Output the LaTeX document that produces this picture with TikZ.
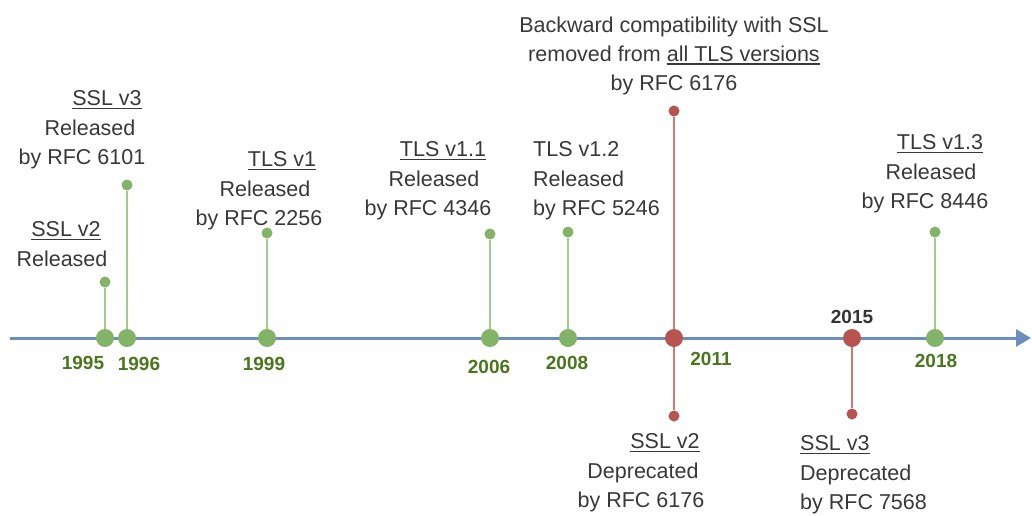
\documentclass[tikz,border=0pt]{standalone}
\usepackage{fontspec}
\setmainfont{Liberation Sans}
\usetikzlibrary{arrows.meta}

\definecolor{axisblue}{HTML}{6C8EBF}
\definecolor{relgreen}{HTML}{82B366}
\definecolor{stemgreen}{HTML}{A3CB8C}
\definecolor{depred}{HTML}{B85450}
\definecolor{stemred}{HTML}{CC7A76}
\definecolor{txtgray}{HTML}{383838}
\definecolor{yeargreen}{HTML}{4A761E}
\definecolor{yeargray}{HTML}{333333}

% underline with a thicker rule sitting a little below the baseline
\newcommand\uln[1]{\leavevmode\vtop{\hbox{#1}\kern1.6pt\hrule height 1.6pt}}
% shift a centred line sideways: positive moves right, negative moves left
\newcommand\shiftr[2]{\hspace*{#1}#2}
\newcommand\shiftl[2]{#2\hspace*{#1}}

\tikzset{
  note/.style={align=center, font=\fontsize{21.5}{29.3}\selectfont, text=txtgray, inner sep=0pt},
  year/.style={font=\fontsize{19}{21}\selectfont\bfseries, text=#1, inner sep=0pt},
  year/.default=yeargreen,
  bigdot/.style={circle, fill=#1, minimum size=18pt, inner sep=0pt},
  smalldot/.style={circle, fill=#1, minimum size=11pt, inner sep=0pt},
  axisline/.style={draw=axisblue, line width=3pt, -{Triangle[length=15pt,width=17pt]}},
  greenstem/.style={draw=stemgreen, line width=2.6pt},
  redstem/.style={draw=stemred, line width=2.6pt},
}

\begin{document}
\begin{tikzpicture}[x=1pt, y=-1pt]
\useasboundingbox (0,0) rectangle (1032,515);

% time axis
\coordinate (axstart) at (10,338);
\coordinate (axend) at (1031,338);
\draw[axisline] (axstart) -- (axend);

% release events (green)
\node[bigdot=relgreen] (d95) at (105,338) {};
\node[smalldot=relgreen] (t95) at (105,282) {};
\node[bigdot=relgreen] (d96) at (127,338) {};
\node[smalldot=relgreen] (t96) at (127,185) {};
\node[bigdot=relgreen] (d99) at (267,338) {};
\node[smalldot=relgreen] (t99) at (267,233) {};
\node[bigdot=relgreen] (d06) at (490,338) {};
\node[smalldot=relgreen] (t06) at (490,234) {};
\node[bigdot=relgreen] (d08) at (568,338) {};
\node[smalldot=relgreen] (t08) at (568,232) {};
\node[bigdot=relgreen] (d18) at (935,338) {};
\node[smalldot=relgreen] (t18) at (935,232) {};

% deprecation events (red)
\node[bigdot=depred] (d11) at (674,338) {};
\node[smalldot=depred] (t11) at (674,111) {};
\node[smalldot=depred] (b11) at (674,416) {};
\node[bigdot=depred] (d15) at (852,338) {};
\node[smalldot=depred] (b15) at (852,414) {};

% stems
\draw[greenstem] (d95) -- (t95);
\draw[greenstem] (d96) -- (t96);
\draw[greenstem] (d99) -- (t99);
\draw[greenstem] (d06) -- (t06);
\draw[greenstem] (d08) -- (t08);
\draw[greenstem] (d18) -- (t18);
\draw[redstem] (d11) -- (t11);
\draw[redstem] (d11) -- (b11);
\draw[redstem] (d15) -- (b15);

% years
\node[year] (y95) at (83,363) {1995};
\node[year] (y96) at (139,364) {1996};
\node[year] (y99) at (264,364) {1999};
\node[year] (y06) at (489,367) {2006};
\node[year] (y08) at (567,363) {2008};
\node[year] (y11) at (711,359) {2011};
\node[year=yeargray] (y15) at (852,317) {2015};
\node[year] (y18) at (936,361) {2018};

% descriptions
\node[note] (n95) at (62,244) {\shiftr{8pt}{\uln{SSL v2}}\\Released};
\node[note] (n96) at (90,130) {\shiftr{34pt}{\uln{SSL v3}}\\Released\\\shiftl{16pt}{by RFC 6101}};
\node[note] (n99) at (265,191) {\shiftr{34pt}{\uln{TLS v1}}\\Released\\\shiftl{12pt}{by RFC 2256}};
\node[note] (n06) at (434,181) {\shiftr{18pt}{\uln{TLS v1.1}}\\Released\\\shiftl{12pt}{by RFC 4346}};
\node[note, align=left, anchor=west] (n08) at (533,181) {TLS v1.2\\Released\\by RFC 5246};
\node[note] (n11t) at (674,56) {Backward compatibility with SSL\\removed from \uln{all TLS versions}\\by RFC 6176};
\node[note] (n11b) at (643,473) {\shiftr{44pt}{\uln{SSL v2}}\\Deprecated\\\shiftl{4pt}{by RFC 6176}};
\node[note, align=left, anchor=west] (n15) at (800,475) {\uln{SSL v3}\\Deprecated\\by RFC 7568};
\node[note] (n18) at (931,174) {\shiftr{18pt}{\uln{TLS v1.3}}\\Released\\\shiftl{12pt}{by RFC 8446}};
\end{tikzpicture}
\end{document}
